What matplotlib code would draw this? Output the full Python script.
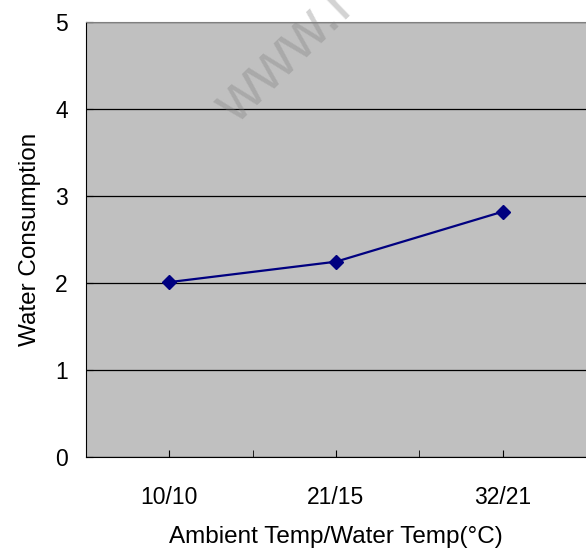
import numpy as np
import matplotlib.pyplot as plt

plt.rcParams['font.family'] = ['Liberation Sans', 'DejaVu Sans']

categories = ['10/10', '21/15', '32/21']
consumption = [2.01, 2.245, 2.82]

fig = plt.figure(figsize=(5.86, 5.54), dpi=100)
ax = fig.add_axes([86/586, 1 - 457/554, 1 - 86/586, (457 - 22)/554])
ax.set_facecolor('#c0c0c0')

x = np.arange(len(categories))
ax.plot(x, consumption, color='#000080', lw=1.6, marker='D', ms=7.5,
        mfc='#000080', mec='#000080', zorder=3)

ax.set_xlim(-0.5, 2.5)
ax.set_ylim(0, 5)
ax.set_yticks(range(6))
ax.yaxis.grid(True, color='black', lw=0.9)
ax.set_axisbelow(True)

# category labels on ticks, extra tick marks between categories
ax.set_xticks(x)
ax.set_xticklabels(categories, fontsize=16.5)
ax.set_xticks([0.5, 1.5], minor=True)
ax.tick_params(axis='x', which='both', direction='in', length=5, color='black')
ax.tick_params(axis='x', which='major', pad=21)
ax.tick_params(axis='y', length=5, direction='in', labelsize=16.5, pad=13)

ax.spines['right'].set_visible(False)
ax.spines['top'].set_color('#808080')
ax.spines['left'].set_color('black')
ax.spines['bottom'].set_color('black')

ax.set_xlabel('Ambient Temp/Water Temp(°C)', fontsize=17.5, labelpad=12)
ax.set_ylabel('Water Consumption', fontsize=17.5, labelpad=10)

# faint watermark, cut by the top edge as in the source image
fig.text(236/586, 1 - 126/554, 'www.r', fontsize=45, color='gray', alpha=0.35,
         rotation=44, ha='left', va='baseline', rotation_mode='anchor')

fig.savefig('out.png', dpi=100)
